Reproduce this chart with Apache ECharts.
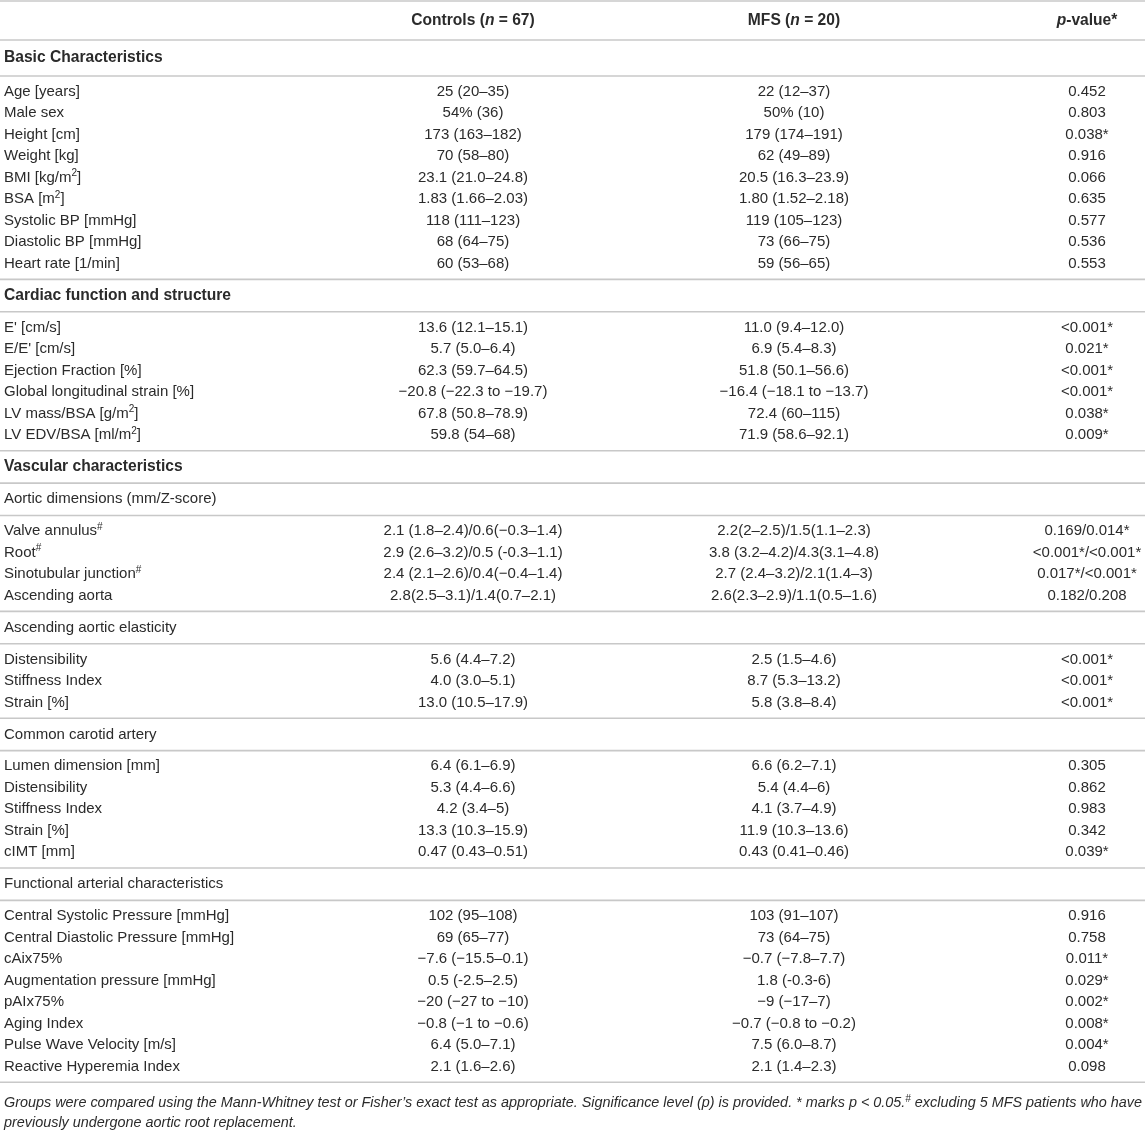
<!DOCTYPE html>
<html>
<head>
<meta charset="utf-8">
<script src="https://cdn.jsdelivr.net/npm/echarts@6.0.0/dist/echarts.min.js"></script>
<style>
    html, body { margin: 0; padding: 0; background: #fff; }
    #table { width: 1145px; height: 1132px; }
</style>
</head>
<body>
<div id="table"></div>
<script>
    // 表头  (_x_ = italic, ^x = superscript)
    var headCols = ['Controls (_n_ = 67)', 'MFS (_n_ = 20)', '_p_-value*'];

    // Basic Characteristics
    var basicLabels = ['Age [years]', 'Male sex', 'Height [cm]', 'Weight [kg]', 'BMI [kg/m^2]', 'BSA [m^2]', 'Systolic BP [mmHg]', 'Diastolic BP [mmHg]', 'Heart rate [1/min]'];
    var basicControls = ['25 (20–35)', '54% (36)', '173 (163–182)', '70 (58–80)', '23.1 (21.0–24.8)', '1.83 (1.66–2.03)', '118 (111–123)', '68 (64–75)', '60 (53–68)'];
    var basicMfs = ['22 (12–37)', '50% (10)', '179 (174–191)', '62 (49–89)', '20.5 (16.3–23.9)', '1.80 (1.52–2.18)', '119 (105–123)', '73 (66–75)', '59 (56–65)'];
    var basicP = ['0.452', '0.803', '0.038*', '0.916', '0.066', '0.635', '0.577', '0.536', '0.553'];

    // Cardiac function and structure
    var cardiacLabels = ['E\' [cm/s]', 'E/E\' [cm/s]', 'Ejection Fraction [%]', 'Global longitudinal strain [%]', 'LV mass/BSA [g/m^2]', 'LV EDV/BSA [ml/m^2]'];
    var cardiacControls = ['13.6 (12.1–15.1)', '5.7 (5.0–6.4)', '62.3 (59.7–64.5)', '−20.8 (−22.3 to −19.7)', '67.8 (50.8–78.9)', '59.8 (54–68)'];
    var cardiacMfs = ['11.0 (9.4–12.0)', '6.9 (5.4–8.3)', '51.8 (50.1–56.6)', '−16.4 (−18.1 to −13.7)', '72.4 (60–115)', '71.9 (58.6–92.1)'];
    var cardiacP = ['<0.001*', '0.021*', '<0.001*', '<0.001*', '0.038*', '0.009*'];

    // Aortic dimensions
    var aorticLabels = ['Valve annulus^#', 'Root^#', 'Sinotubular junction^#', 'Ascending aorta'];
    var aorticControls = ['2.1 (1.8–2.4)/0.6(−0.3–1.4)', '2.9 (2.6–3.2)/0.5 (-0.3–1.1)', '2.4 (2.1–2.6)/0.4(−0.4–1.4)', '2.8(2.5–3.1)/1.4(0.7–2.1)'];
    var aorticMfs = ['2.2(2–2.5)/1.5(1.1–2.3)', '3.8 (3.2–4.2)/4.3(3.1–4.8)', '2.7 (2.4–3.2)/2.1(1.4–3)', '2.6(2.3–2.9)/1.1(0.5–1.6)'];
    var aorticP = ['0.169/0.014*', '<0.001*/<0.001*', '0.017*/<0.001*', '0.182/0.208'];

    // Ascending aortic elasticity
    var elastLabels = ['Distensibility', 'Stiffness Index', 'Strain [%]'];
    var elastControls = ['5.6 (4.4–7.2)', '4.0 (3.0–5.1)', '13.0 (10.5–17.9)'];
    var elastMfs = ['2.5 (1.5–4.6)', '8.7 (5.3–13.2)', '5.8 (3.8–8.4)'];
    var elastP = ['<0.001*', '<0.001*', '<0.001*'];

    // Common carotid artery
    var carotidLabels = ['Lumen dimension [mm]', 'Distensibility', 'Stiffness Index', 'Strain [%]', 'cIMT [mm]'];
    var carotidControls = ['6.4 (6.1–6.9)', '5.3 (4.4–6.6)', '4.2 (3.4–5)', '13.3 (10.3–15.9)', '0.47 (0.43–0.51)'];
    var carotidMfs = ['6.6 (6.2–7.1)', '5.4 (4.4–6)', '4.1 (3.7–4.9)', '11.9 (10.3–13.6)', '0.43 (0.41–0.46)'];
    var carotidP = ['0.305', '0.862', '0.983', '0.342', '0.039*'];

    // Functional arterial characteristics
    var funcLabels = ['Central Systolic Pressure [mmHg]', 'Central Diastolic Pressure [mmHg]', 'cAix75%', 'Augmentation pressure [mmHg]', 'pAIx75%', 'Aging Index', 'Pulse Wave Velocity [m/s]', 'Reactive Hyperemia Index'];
    var funcControls = ['102 (95–108)', '69 (65–77)', '−7.6 (−15.5–0.1)', '0.5 (-2.5–2.5)', '−20 (−27 to −10)', '−0.8 (−1 to −0.6)', '6.4 (5.0–7.1)', '2.1 (1.6–2.6)'];
    var funcMfs = ['103 (91–107)', '73 (64–75)', '−0.7 (−7.8–7.7)', '1.8 (-0.3-6)', '−9 (−17–7)', '−0.7 (−0.8 to −0.2)', '7.5 (6.0–8.7)', '2.1 (1.4–2.3)'];
    var funcP = ['0.916', '0.758', '0.011*', '0.029*', '0.002*', '0.008*', '0.004*', '0.098'];

    var footnote = [
        'Groups were compared using the Mann-Whitney test or Fisher’s exact test as appropriate. Significance level (p) is provided. * marks p < 0.05.^# excluding 5 MFS patients who have',
        'previously undergone aortic root replacement.'
    ];

    // 版面
    var W = 1145, H = 1132;
    var colX = [4, 473, 794, 1087];
    var rowPitch = 21.5, rowPad = 15.7, titleH = 32.4;
    var fontFam = '"Liberation Sans", Arial, Helvetica, sans-serif';
    var ink = '#2b2b2b', ruleColor = '#c8c8c8';
    var bodySize = 15, boldSize = 15.6, noteSize = 14.4;

    var blocks = [
        {title: 'Basic Characteristics', bold: true, h: 36},
        {rows: [basicLabels, basicControls, basicMfs, basicP]},
        {title: 'Cardiac function and structure', bold: true},
        {rows: [cardiacLabels, cardiacControls, cardiacMfs, cardiacP]},
        {title: 'Vascular characteristics', bold: true},
        {title: 'Aortic dimensions (mm/Z-score)'},
        {rows: [aorticLabels, aorticControls, aorticMfs, aorticP]},
        {title: 'Ascending aortic elasticity'},
        {rows: [elastLabels, elastControls, elastMfs, elastP]},
        {title: 'Common carotid artery'},
        {rows: [carotidLabels, carotidControls, carotidMfs, carotidP]},
        {title: 'Functional arterial characteristics'},
        {rows: [funcLabels, funcControls, funcMfs, funcP]}
    ];

    var lines = [];   // {y, cells:[text...], bold, italic, size}
    var rules = [1, 40];
    lines.push({y: 21, cells: ['', headCols[0], headCols[1], headCols[2]], bold: true});
    var y = 40;
    blocks.forEach(function (b) {
        if (b.title) {
            var h = b.h || titleH;
            lines.push({y: y + h / 2, cells: [b.title], bold: !!b.bold});
            y += h;
        } else {
            var n = b.rows[0].length;
            for (var i = 0; i < n; i++) {
                lines.push({y: y + rowPad + i * rowPitch,
                    cells: [b.rows[0][i], b.rows[1][i], b.rows[2][i], b.rows[3][i]]});
            }
            y += rowPad * 2 + (n - 1) * rowPitch;
        }
        rules.push(y);
    });
    footnote.forEach(function (t, i) {
        lines.push({y: y + 21 + i * 20, cells: [t], italic: true, size: noteSize});
    });

    function toRich(s) {
        return s.replace(/\^(\S)/g, '{sup|$1}').replace(/_([^_]+)_/g, '{it|$1}');
    }

    var chart = echarts.init(document.getElementById('table'));
    var option = {
        backgroundColor: '#fff',
        animation: false,
        grid: {left: 0, right: 0, top: 0, bottom: 0},
        xAxis: {type: 'value', min: 0, max: W, show: false},
        yAxis: {type: 'value', min: 0, max: H, inverse: true, show: false},
        series: [
            {
                type: 'custom',
                silent: true,
                data: rules.map(function (r) { return [0, r]; }),
                renderItem: function (params, api) {
                    var a = api.coord([0, api.value(1)]);
                    var b = api.coord([W, api.value(1)]);
                    return {
                        type: 'line',
                        shape: {x1: a[0], y1: a[1], x2: b[0], y2: b[1]},
                        style: {stroke: ruleColor, lineWidth: 1.6}
                    };
                }
            },
            {
                type: 'custom',
                silent: true,
                data: lines.map(function (l, i) { return [0, l.y, i]; }),
                renderItem: function (params, api) {
                    var l = lines[api.value(2)];
                    var size = l.size || (l.bold ? boldSize : bodySize);
                    var weight = l.bold ? 'bold' : 'normal';
                    var fstyle = l.italic ? 'italic' : 'normal';
                    var children = [];
                    l.cells.forEach(function (c, k) {
                        if (!c) return;
                        var p = api.coord([colX[k], api.value(1)]);
                        children.push({
                            type: 'text',
                            x: p[0], y: p[1],
                            style: {
                                text: toRich(c),
                                fontSize: size, fontFamily: fontFam, fontWeight: weight, fontStyle: fstyle,
                                fill: ink, lineHeight: 18,
                                align: k === 0 ? 'left' : 'center', verticalAlign: 'middle',
                                rich: {
                                    sup: {fontSize: Math.round(size * 0.68), lineHeight: 11, verticalAlign: 'top',
                                        fontFamily: fontFam, fontWeight: weight, fontStyle: fstyle, fill: ink},
                                    it: {fontSize: size, lineHeight: 18, fontFamily: fontFam,
                                        fontWeight: weight, fontStyle: 'italic', fill: ink}
                                }
                            }
                        });
                    });
                    return {type: 'group', children: children};
                }
            }
        ]
    };
    chart.setOption(option);
</script>
</body>
</html>
